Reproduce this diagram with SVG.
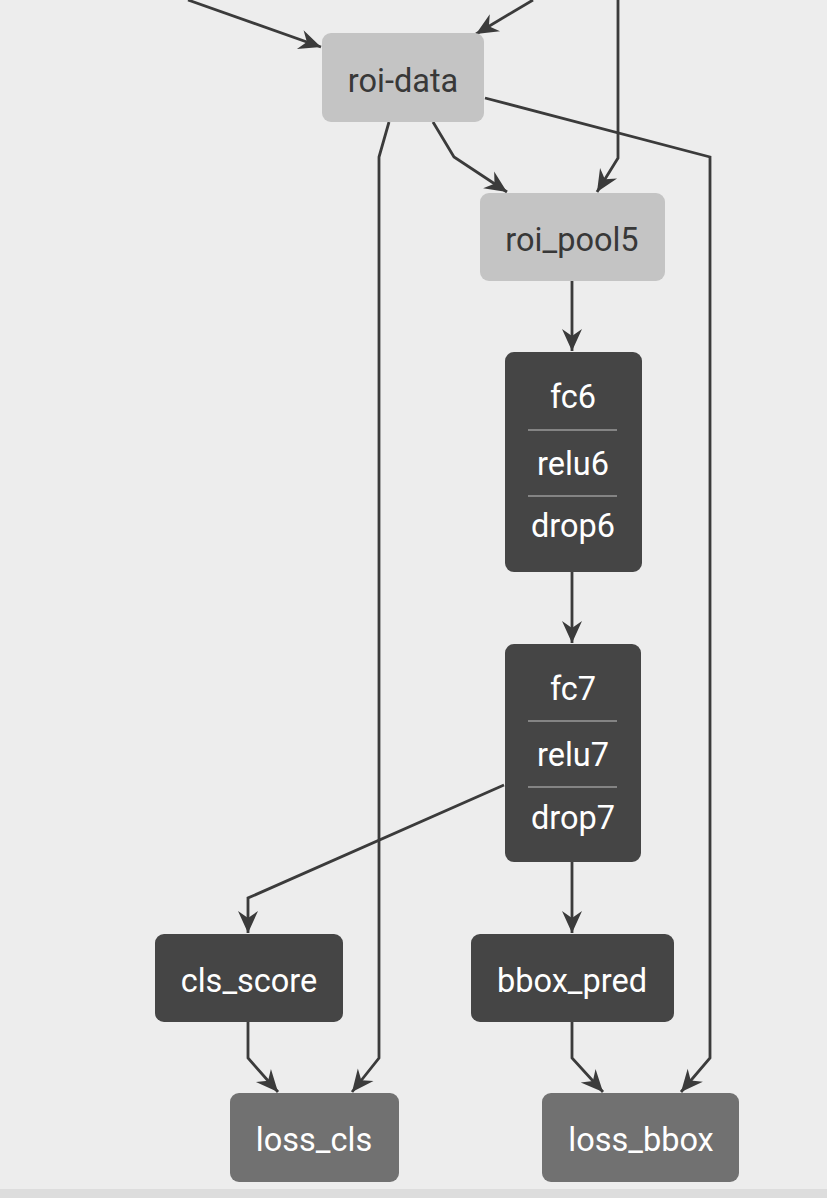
<svg xmlns="http://www.w3.org/2000/svg" width="827" height="1198" viewBox="0 0 827 1198">
<style>
.bg{fill:#ededed}
.light rect{fill:#c4c4c4}
.dark rect{fill:#454545}
.loss rect{fill:#717171}
text{font-family:Roboto,"Liberation Sans",sans-serif;font-size:32.5px;text-anchor:middle}
.light text{fill:#383838}
.dark text,.loss text{fill:#ffffff}
.sep{stroke:#9a9a9a;stroke-width:1.5}
.edges path{fill:none;stroke:#3b3b3b;stroke-width:2.8;marker-end:url(#arr)}
</style>
<defs>
<marker id="arr" markerUnits="userSpaceOnUse" markerWidth="26" markerHeight="24" viewBox="-24 -12 26 24" refX="0" refY="0" orient="auto">
<path d="M0,0 L-22,-10 L-15,0 L-22,10 Z" fill="#3b3b3b"/>
</marker>
</defs>
<rect class="bg" x="0" y="0" width="827" height="1198"/>
<rect x="0" y="1189" width="827" height="9" fill="#dddddd"/>
<g class="edges">
<path d="M188,0 L321,47"/>
<path d="M533,0 L476,34"/>
<path d="M618,0 L618,158 L597,192"/>
<path d="M433,122 L454,157 L507,192"/>
<path d="M389,122 L379,157 L379,1058 L352,1092"/>
<path d="M485,98 L710,157 L710,1058 L681,1092"/>
<path d="M572,281 L572,351"/>
<path d="M572,572 L572,643"/>
<path d="M504,785 L248,898 L248,933"/>
<path d="M572,862 L572,933"/>
<path d="M248,1022 L248,1058 L278,1092"/>
<path d="M572,1022 L572,1058 L603,1092"/>
</g>
<g id="roi-data" class="light">
<rect x="322" y="33" width="162" height="89" rx="9"/>
<text x="403" y="92">roi-data</text>
</g>
<g id="roi_pool5" class="light">
<rect x="480" y="193" width="185" height="88" rx="9"/>
<text x="572" y="251">roi_pool5</text>
</g>
<g id="fc6" class="dark">
<rect x="505" y="352" width="137" height="220" rx="9"/>
<text x="573" y="408">fc6</text>
<line class="sep" x1="528" y1="430" x2="617" y2="430"/>
<text x="573" y="475">relu6</text>
<line class="sep" x1="528" y1="496" x2="617" y2="496"/>
<text x="573" y="537">drop6</text>
</g>
<g id="fc7" class="dark">
<rect x="505" y="644" width="136" height="218" rx="9"/>
<text x="573" y="700">fc7</text>
<line class="sep" x1="528" y1="721" x2="617" y2="721"/>
<text x="573" y="766">relu7</text>
<line class="sep" x1="528" y1="787" x2="617" y2="787"/>
<text x="573" y="829">drop7</text>
</g>
<g id="cls_score" class="dark">
<rect x="155" y="934" width="188" height="88" rx="9"/>
<text x="249" y="992">cls_score</text>
</g>
<g id="bbox_pred" class="dark">
<rect x="471" y="934" width="203" height="88" rx="9"/>
<text x="572" y="992">bbox_pred</text>
</g>
<g id="loss_cls" class="loss">
<rect x="230" y="1093" width="169" height="89" rx="9"/>
<text x="314" y="1151">loss_cls</text>
</g>
<g id="loss_bbox" class="loss">
<rect x="542" y="1093" width="197" height="89" rx="9"/>
<text x="641" y="1151">loss_bbox</text>
</g>
</svg>
